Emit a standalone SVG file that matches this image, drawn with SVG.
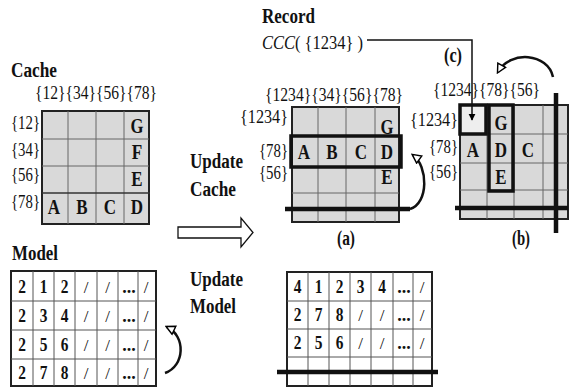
<svg xmlns="http://www.w3.org/2000/svg" width="571" height="388" viewBox="0 0 571 388" font-family="'Liberation Serif', 'Times New Roman', serif">
<defs>
<marker id="hollow" viewBox="0 0 10 10" refX="8" refY="5" markerWidth="11" markerHeight="11" markerUnits="userSpaceOnUse" orient="auto">
<path d="M1,1 L9,5 L1,9 z" fill="#fff" stroke="#000" stroke-width="1.3"/>
</marker>
<marker id="solid" viewBox="0 0 10 10" refX="9" refY="5" markerWidth="7" markerHeight="8" markerUnits="userSpaceOnUse" orient="auto">
<path d="M0,0 L10,5 L0,10 z" fill="#000"/>
</marker>
</defs>
<style>
text{font-family:'Liberation Serif','Times New Roman',serif;fill:#111}
.h{font-size:18px}
.L{font-size:20px;font-weight:bold;text-anchor:middle}
.N{font-size:18px;font-weight:bold;text-anchor:middle}
.t{font-size:20px;font-weight:bold}
.s{font-size:17px;text-anchor:middle}
.cell{fill:#d9d9d9;stroke:#222;stroke-width:2}
.in{stroke:#666;stroke-width:1;fill:none}
.tab{fill:#fff;stroke:#222;stroke-width:2}
.tin{stroke:#555;stroke-width:1;fill:none}
.thick{fill:none;stroke:#111;stroke-width:3.5}
.bar{stroke:#111;stroke-width:4.5}
.arc{fill:none;stroke:#111;stroke-width:2.5}
</style>

<g id="cache">
<text class="t" x="11" y="77" textLength="46" lengthAdjust="spacingAndGlyphs">Cache</text>
<text class="h" x="35" y="99" textLength="122" lengthAdjust="spacingAndGlyphs">{12}{34}{56}{78}</text>
<text class="h" x="11" y="129" textLength="29" lengthAdjust="spacingAndGlyphs">{12}</text>
<text class="h" x="11" y="156" textLength="29" lengthAdjust="spacingAndGlyphs">{34}</text>
<text class="h" x="11" y="181" textLength="29" lengthAdjust="spacingAndGlyphs">{56}</text>
<text class="h" x="11" y="208" textLength="29" lengthAdjust="spacingAndGlyphs">{78}</text>
<rect class="cell" x="42" y="111" width="107" height="113"/>
<path class="in" d="M68 111V224M96 111V224M124 111V224M42 139H149M42 166H149"/>
<path stroke="#333" stroke-width="1.5" d="M42 193H150"/>
<text class="L" x="137" y="133" textLength="13" lengthAdjust="spacingAndGlyphs">G</text>
<text class="L" x="137" y="159" textLength="10.5" lengthAdjust="spacingAndGlyphs">F</text>
<text class="L" x="137" y="186" textLength="11.3" lengthAdjust="spacingAndGlyphs">E</text>
<text class="L" x="54" y="214" textLength="12.3" lengthAdjust="spacingAndGlyphs">A</text>
<text class="L" x="82" y="214" textLength="11.3" lengthAdjust="spacingAndGlyphs">B</text>
<text class="L" x="110" y="214" textLength="12.3" lengthAdjust="spacingAndGlyphs">C</text>
<text class="L" x="137" y="214" textLength="12.3" lengthAdjust="spacingAndGlyphs">D</text>
</g>

<g id="model-left">
<text class="t" x="12" y="260" textLength="46" lengthAdjust="spacingAndGlyphs">Model</text>
<rect class="tab" x="11" y="271" width="145" height="115"/>
<path class="tin" d="M33 271V386M54 271V386M75 271V386M97 271V386M118 271V386M138 271V386M11 301H156M11 330H156M11 359H156"/>
<g class="N">
<text x="22" y="292.5" textLength="7.7" lengthAdjust="spacingAndGlyphs">2</text><text x="43.5" y="292.5" textLength="7.7" lengthAdjust="spacingAndGlyphs">1</text><text x="64.5" y="292.5" textLength="7.7" lengthAdjust="spacingAndGlyphs">2</text>
<text x="22" y="321.5" textLength="7.7" lengthAdjust="spacingAndGlyphs">2</text><text x="43.5" y="321.5" textLength="7.7" lengthAdjust="spacingAndGlyphs">3</text><text x="64.5" y="321.5" textLength="7.7" lengthAdjust="spacingAndGlyphs">4</text>
<text x="22" y="350.5" textLength="7.7" lengthAdjust="spacingAndGlyphs">2</text><text x="43.5" y="350.5" textLength="7.7" lengthAdjust="spacingAndGlyphs">5</text><text x="64.5" y="350.5" textLength="7.7" lengthAdjust="spacingAndGlyphs">6</text>
<text x="22" y="379" textLength="7.7" lengthAdjust="spacingAndGlyphs">2</text><text x="43.5" y="379" textLength="7.7" lengthAdjust="spacingAndGlyphs">7</text><text x="64.5" y="379" textLength="7.7" lengthAdjust="spacingAndGlyphs">8</text>
<text x="129" y="292.5">...</text><text x="129" y="321.5">...</text><text x="129" y="350.5">...</text><text x="129" y="379">...</text>
</g>
<g class="s">
<text x="86" y="292.5">/</text><text x="107.5" y="292.5">/</text><text x="146" y="292.5">/</text>
<text x="86" y="321.5">/</text><text x="107.5" y="321.5">/</text><text x="146" y="321.5">/</text>
<text x="86" y="350.5">/</text><text x="107.5" y="350.5">/</text><text x="146" y="350.5">/</text>
<text x="86" y="379">/</text><text x="107.5" y="379">/</text><text x="146" y="379">/</text>
</g>
</g>

<g id="update-labels">
<text class="t" x="190" y="168" textLength="53" lengthAdjust="spacingAndGlyphs">Update</text>
<text class="t" x="190" y="196" textLength="46" lengthAdjust="spacingAndGlyphs">Cache</text>
<text class="t" x="190" y="286" textLength="53" lengthAdjust="spacingAndGlyphs">Update</text>
<text class="t" x="190" y="313" textLength="46" lengthAdjust="spacingAndGlyphs">Model</text>
<polygon points="178,227 241,227 241,218 253,232.5 241,247 241,238 178,238" fill="#fff" stroke="#111" stroke-width="1.3"/>
</g>

<g id="record">
<text class="t" x="262" y="23" textLength="53" lengthAdjust="spacingAndGlyphs">Record</text>
<text class="h" x="262" y="49" textLength="101" lengthAdjust="spacingAndGlyphs"><tspan font-style="italic">CCC</tspan>( {1234} )</text>
<text class="L" x="453" y="62" textLength="18" lengthAdjust="spacingAndGlyphs">(c)</text>
</g>

<g id="grid-a">
<text class="h" x="265" y="101" textLength="138" lengthAdjust="spacingAndGlyphs">{1234}{34}{56}{78}</text>
<text class="h" x="240" y="123" textLength="48" lengthAdjust="spacingAndGlyphs">{1234}</text>
<text class="h" x="259" y="157" textLength="29" lengthAdjust="spacingAndGlyphs">{78}</text>
<text class="h" x="259" y="179" textLength="29" lengthAdjust="spacingAndGlyphs">{56}</text>
<rect class="cell" x="292" y="107" width="107" height="115"/>
<path class="in" d="M318 107V222M346 107V222M375 107V222M292 193H399"/>
<text class="L" x="387" y="134" textLength="13" lengthAdjust="spacingAndGlyphs">G</text>
<text class="L" x="387" y="184" textLength="11.3" lengthAdjust="spacingAndGlyphs">E</text>
<rect class="thick" x="291" y="136" width="110" height="31"/>
<text class="L" x="304" y="158.5" textLength="12.3" lengthAdjust="spacingAndGlyphs">A</text>
<text class="L" x="332" y="158.5" textLength="11.3" lengthAdjust="spacingAndGlyphs">B</text>
<text class="L" x="361" y="158.5" textLength="12.3" lengthAdjust="spacingAndGlyphs">C</text>
<text class="L" x="387" y="158.5" textLength="12.3" lengthAdjust="spacingAndGlyphs">D</text>
<path class="bar" d="M285 209H410"/>
<text class="L" x="346" y="245" textLength="18" lengthAdjust="spacingAndGlyphs">(a)</text>
</g>

<g id="grid-b">
<text class="h" x="433" y="96" textLength="107" lengthAdjust="spacingAndGlyphs">{1234}{78}{56}</text>
<text class="h" x="410" y="126" textLength="48" lengthAdjust="spacingAndGlyphs">{1234}</text>
<text class="h" x="429" y="153" textLength="29" lengthAdjust="spacingAndGlyphs">{78}</text>
<text class="h" x="429" y="178" textLength="29" lengthAdjust="spacingAndGlyphs">{56}</text>
<rect class="cell" x="460" y="105" width="108" height="114"/>
<path class="in" d="M487 105V219M514 105V219M543 105V219M460 134H568M460 163H568M460 190H568"/>
<rect x="460" y="105" width="26" height="29" fill="#eeeeee" stroke="#111" stroke-width="3.5"/>
<rect class="thick" x="489" y="105" width="24" height="86"/>
<text class="L" x="501" y="129.5" textLength="13" lengthAdjust="spacingAndGlyphs">G</text>
<text class="L" x="473" y="156.5" textLength="12.3" lengthAdjust="spacingAndGlyphs">A</text>
<text class="L" x="501" y="156.5" textLength="12.3" lengthAdjust="spacingAndGlyphs">D</text>
<text class="L" x="528" y="156.5" textLength="12.3" lengthAdjust="spacingAndGlyphs">C</text>
<text class="L" x="501" y="183.5" textLength="11.3" lengthAdjust="spacingAndGlyphs">E</text>
<path class="bar" d="M455 208H568M556 93V233"/>
<text class="L" x="521" y="245" textLength="18" lengthAdjust="spacingAndGlyphs">(b)</text>
</g>

<g id="model-right">
<rect class="tab" x="287" y="272" width="145" height="114"/>
<path class="tin" d="M308 272V386M329 272V386M350 272V386M371 272V386M393 272V386M413 272V386M287 301H432M287 329H432M287 357H432"/>
<g class="N">
<text x="297.5" y="293" textLength="7.7" lengthAdjust="spacingAndGlyphs">4</text><text x="318.5" y="293" textLength="7.7" lengthAdjust="spacingAndGlyphs">1</text><text x="339.5" y="293" textLength="7.7" lengthAdjust="spacingAndGlyphs">2</text><text x="360.5" y="293" textLength="7.7" lengthAdjust="spacingAndGlyphs">3</text><text x="382" y="293" textLength="7.7" lengthAdjust="spacingAndGlyphs">4</text>
<text x="297.5" y="321" textLength="7.7" lengthAdjust="spacingAndGlyphs">2</text><text x="318.5" y="321" textLength="7.7" lengthAdjust="spacingAndGlyphs">7</text><text x="339.5" y="321" textLength="7.7" lengthAdjust="spacingAndGlyphs">8</text>
<text x="297.5" y="349" textLength="7.7" lengthAdjust="spacingAndGlyphs">2</text><text x="318.5" y="349" textLength="7.7" lengthAdjust="spacingAndGlyphs">5</text><text x="339.5" y="349" textLength="7.7" lengthAdjust="spacingAndGlyphs">6</text>
<text x="404" y="293">...</text><text x="404" y="321">...</text><text x="404" y="349">...</text>
</g>
<g class="s">
<text x="422" y="293">/</text>
<text x="360.5" y="321">/</text><text x="382" y="321">/</text><text x="422" y="321">/</text>
<text x="360.5" y="349">/</text><text x="382" y="349">/</text><text x="422" y="349">/</text>
</g>
<path class="bar" d="M277 372H438"/>
</g>

<g id="connectors">
<path d="M367 40H472V120" fill="none" stroke="#111" stroke-width="1.5" marker-end="url(#solid)"/>
<path class="arc" d="M165 373C185 366 186 336 167 327" marker-end="url(#hollow)"/>
<path class="arc" d="M410 209C429 203 428 166 413 155" marker-end="url(#hollow)"/>
<path class="arc" d="M553 77C548 53 510 50 498 72" marker-end="url(#hollow)"/>
</g>
</svg>
